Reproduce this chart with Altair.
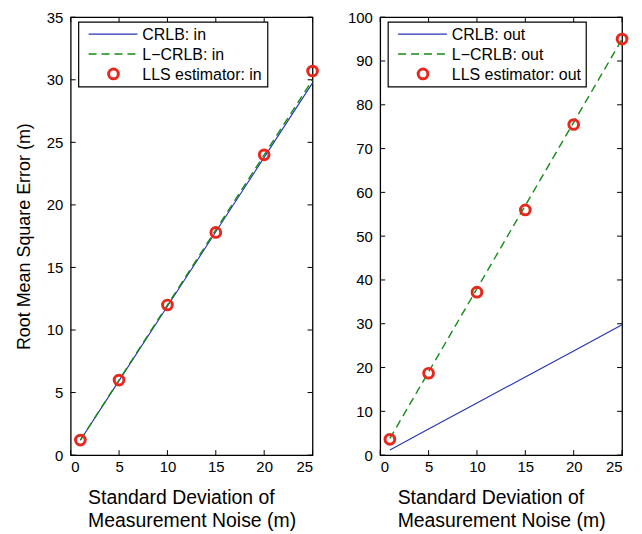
import altair as alt
import pandas as pd

# ---- data ----
noise_std = [1, 5, 10, 15, 20, 25]
crlb_in = [1.19, 5.95, 11.9, 17.85, 23.8, 29.75]
lcrlb_in = [1.2, 6.0, 12.0, 18.0, 24.0, 30.0]
lls_in = [1.2, 6.0, 12.0, 17.8, 24.0, 30.7]
crlb_out = [1.19, 5.95, 11.9, 17.85, 23.8, 29.75]
lcrlb_out = [3.8, 19.0, 38.0, 57.0, 76.0, 95.0]
lls_out = [3.6, 18.7, 37.2, 56.0, 75.5, 95.0]

x_ticks = [0, 5, 10, 15, 20, 25]
y_ticks_in = [0, 5, 10, 15, 20, 25, 30, 35]
y_ticks_out = [0, 10, 20, 30, 40, 50, 60, 70, 80, 90, 100]

FONT = "Liberation Sans"
BLUE = "#2233b0"
GREEN = "#138a13"
RED = "#e8281e"
W = 243
H = 440
TL = 5  # tick length


def one():
    return alt.Data(values=[{"a": 0}])


def panel(crlb, lcrlb, lls, ymax, yticks, tag, ytitle, legend_right):
    df = pd.DataFrame({"x": noise_std, "crlb": crlb, "lcrlb": lcrlb, "lls": lls})
    xs = alt.Scale(domain=[0, 25], nice=False, zero=False)
    ys = alt.Scale(domain=[0, ymax], nice=False, zero=False)
    xaxis = alt.Axis(values=x_ticks, title=["Standard Deviation of", "Measurement Noise (m)"],
                     titleAlign="left", titleX=17, titleY=34, titleAnchor="start",
                     titleBaseline="top", titleLineHeight=23, titleFontSize=19.5, labelPadding=4)
    if ytitle is None:
        yaxis = alt.Axis(values=yticks, title=None, labelPadding=8)
    else:
        yaxis = alt.Axis(values=yticks, title=ytitle, labelPadding=8, titlePadding=13,
                         titleFontSize=18)
    base = alt.Chart(df)
    l1 = base.mark_line(color=BLUE, strokeWidth=1.1).encode(
        x=alt.X("x:Q", scale=xs, axis=xaxis),
        y=alt.Y("crlb:Q", scale=ys, axis=yaxis))
    l2 = base.mark_line(color=GREEN, strokeWidth=1.4, strokeDash=[8, 5]).encode(
        x=alt.X("x:Q", scale=xs), y=alt.Y("lcrlb:Q", scale=ys))
    pts = base.mark_point(color=RED, shape="circle", filled=False, size=95, strokeWidth=3, opacity=1).encode(
        x=alt.X("x:Q", scale=xs), y=alt.Y("lls:Q", scale=ys))

    # inward ticks on all four sides
    xt = pd.DataFrame({"v": x_ticks})
    yt = pd.DataFrame({"v": yticks})
    tb = alt.Chart(xt).mark_rule(color="black", strokeWidth=1).encode(
        x=alt.X("v:Q", scale=xs), y=alt.value(H), y2=alt.value(H - TL))
    tt = alt.Chart(xt).mark_rule(color="black", strokeWidth=1).encode(
        x=alt.X("v:Q", scale=xs), y=alt.value(0), y2=alt.value(TL))
    tlft = alt.Chart(yt).mark_rule(color="black", strokeWidth=1).encode(
        y=alt.Y("v:Q", scale=ys), x=alt.value(0), x2=alt.value(TL))
    trt = alt.Chart(yt).mark_rule(color="black", strokeWidth=1).encode(
        y=alt.Y("v:Q", scale=ys), x=alt.value(W), x2=alt.value(W - TL))

    # legend box
    box = alt.Chart(one()).mark_rect(fill="white", stroke="black", strokeWidth=1.2).encode(
        x=alt.value(8), x2=alt.value(legend_right), y=alt.value(5), y2=alt.value(70))
    lg1 = alt.Chart(one()).mark_rule(color=BLUE, strokeWidth=1.1).encode(
        x=alt.value(18), x2=alt.value(67), y=alt.value(17))
    lg2 = alt.Chart(one()).mark_rule(color=GREEN, strokeWidth=1.4, strokeDash=[8, 5]).encode(
        x=alt.value(18), x2=alt.value(67), y=alt.value(37))
    lg3 = alt.Chart(one()).mark_point(color=RED, shape="circle", filled=False, size=95,
                                      strokeWidth=3, opacity=1).encode(
        x=alt.value(43), y=alt.value(57))
    texts = []
    for i, lab in enumerate([f"CRLB: {tag}", f"L\u2212CRLB: {tag}", f"LLS estimator: {tag}"]):
        texts.append(alt.Chart(one()).mark_text(text=lab, align="left", baseline="middle",
                                                font=FONT, fontSize=16, color="black").encode(
            x=alt.value(72), y=alt.value(18 + 20 * i)))

    return alt.layer(l1, l2, pts, tb, tt, tlft, trt, box, lg1, lg2, lg3, *texts).properties(
        width=W, height=H)


left = panel(crlb_in, lcrlb_in, lls_in, 35, y_ticks_in, "in", "Root Mean Square Error (m)", 198)
right = panel(crlb_out, lcrlb_out, lls_out, 100, y_ticks_out, "out", None, 207)

chart = alt.hconcat(left, right, spacing=22).properties(
    padding={"left": 6, "top": 0, "right": 0, "bottom": 0},
    background="white"
).configure_view(stroke="black", strokeWidth=1.3).configure_axis(
    domain=False, ticks=False, grid=False,
    labelFont=FONT, labelFontSize=15, labelColor="black",
    titleFont=FONT, titleFontSize=17, titleColor="black", titleFontWeight="normal"
)

chart.save("out.html", embed_options={"renderer": "svg", "actions": False})
